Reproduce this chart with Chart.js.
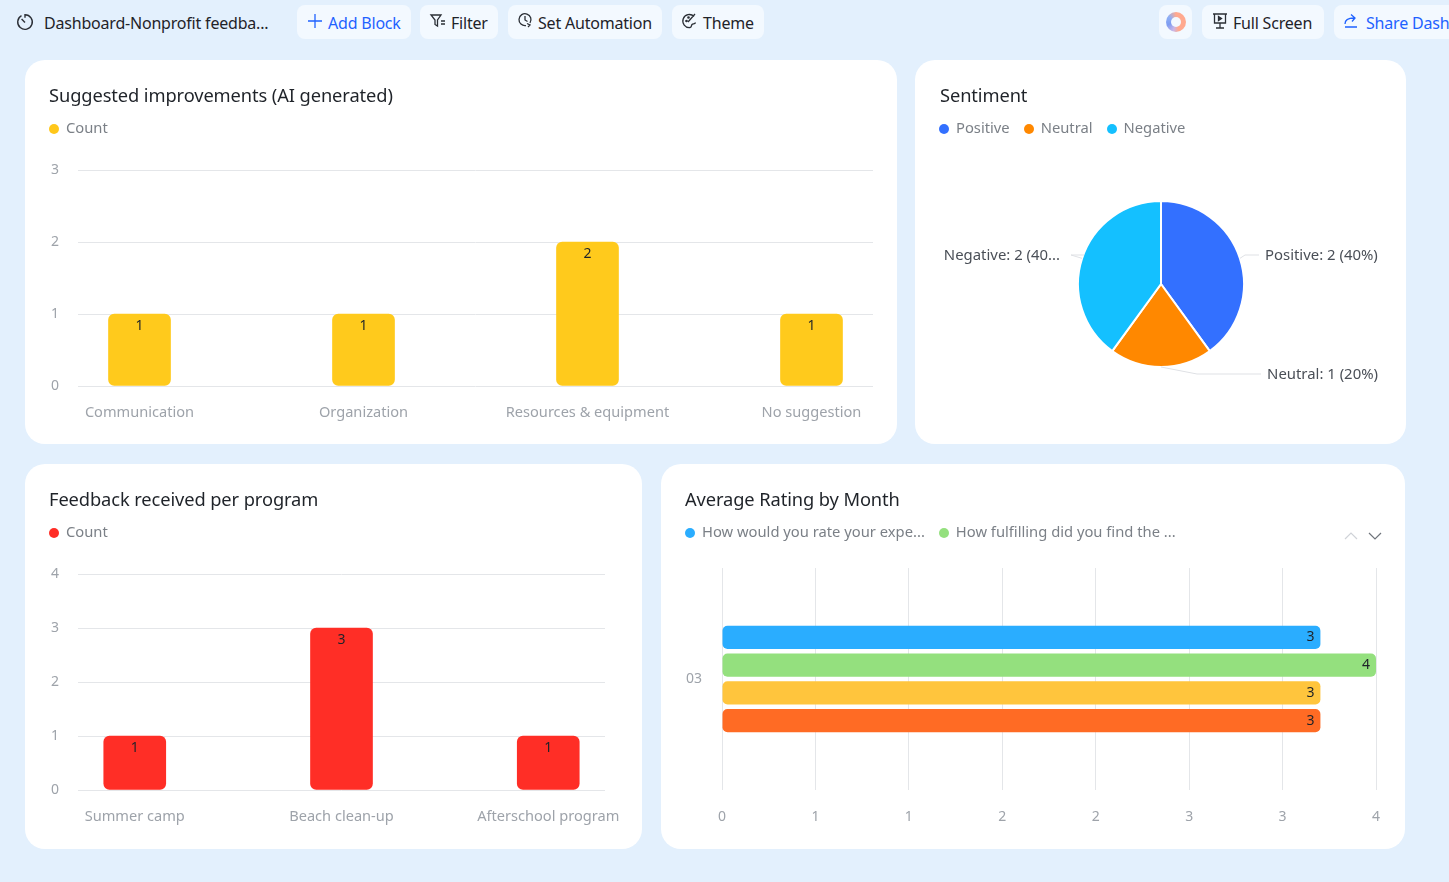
<!DOCTYPE html>
<html>
<head>
<meta charset="utf-8">
<title>Dashboard-Nonprofit feedback</title>
<script src="https://cdn.jsdelivr.net/npm/chart.js@4"></script>
<style>
  html, body { margin: 0; padding: 0; width: 1449px; height: 882px; overflow: hidden; background: #e3f0fd; font-family: "Noto Sans", sans-serif; color: #1f2329; }
  .btn { position: absolute; top: 5px; height: 34px; line-height: 34px; background: #f3f9ff; border-radius: 8px; font-size: 16px; white-space: nowrap; overflow: hidden; letter-spacing: -0.2px; }
  .btn svg { position: absolute; top: 7px; }
  .btn span { position: absolute; top: 1px; }
  .blue { color: #1f62ff; }
  .card { position: absolute; background: #fff; border-radius: 20px; overflow: hidden; }
  .card canvas { position: absolute; left: 0; top: 0; }
  .title { position: absolute; left: 24px; top: 21px; font-size: 18.3px; line-height: 28px; white-space: nowrap; letter-spacing: -0.1px; }
  .legend { position: absolute; left: 24px; top: 56px; font-size: 14.75px; line-height: 22px; color: #7b8087; white-space: nowrap; }
  .legend i { display: inline-block; width: 10px; height: 10px; border-radius: 50%; margin-right: 7px; vertical-align: -0.5px; }
  .legend b { font-weight: normal; margin-right: 14px; }
</style>
</head>
<body>
<svg style="position:absolute;left:15px;top:12px" width="20" height="20" viewBox="0 0 20 20" fill="none" stroke="#2b2f36" stroke-width="1.4"><path d="M6.5 3.6a7.3 7.3 0 1 0 3.5-.9v3"/><path d="M6.6 7l3.4 3.6"/></svg>
<div style="position:absolute;left:44px;top:11px;font-size:16px;line-height:24px;letter-spacing:-0.2px;white-space:nowrap">Dashboard-Nonprofit feedba...</div>

<div class="btn blue" style="left:297px;width:114px"><svg style="left:9px" width="18" height="18" viewBox="0 0 18 18" stroke="#1f62ff" stroke-width="1.3"><path d="M9 2v14M2 9h14"/></svg><span style="left:31px">Add Block</span></div>
<div class="btn" style="left:420px;width:78px"><svg style="left:9px" width="18" height="18" viewBox="0 0 18 18" fill="none" stroke="#2b2f36" stroke-width="1.3"><path d="M2 3h10L8.5 8v6L6 12.5V8zM12 9h4M12 12h4"/></svg><span style="left:31px">Filter</span></div>
<div class="btn" style="left:508px;width:154px"><svg style="left:8px;top:6px" width="18" height="18" viewBox="0 0 18 18" fill="none" stroke="#2b2f36" stroke-width="1.3"><path d="M14 12a6 6 0 1 0-4 2.6M9 5v4l2.500 1.500M11 12.500l3 1.500-2 2"/></svg><span style="left:30px">Set Automation</span></div>
<div class="btn" style="left:672px;width:92px"><svg style="left:9px" width="18" height="18" viewBox="0 0 18 18" fill="none" stroke="#2b2f36" stroke-width="1.3"><path d="M13 4.500A6.500 6.500 0 1 0 9 15.500c2 0 1-2 2-3s3 0 3.500-2M7 10l7-8"/><circle cx="5.500" cy="9" r="0.700"/><circle cx="7.500" cy="5.500" r="0.700"/></svg><span style="left:31px">Theme</span></div>

<div class="btn" style="left:1159px;width:33px"><div style="position:absolute;left:7px;top:7px;width:20px;height:20px;border-radius:50%;background:conic-gradient(#ffa98f 0 45%,#c9b6e8 55%,#7d9cf2 70%,#8fb0f5 85%,#ffa98f);"><div style="position:absolute;left:5px;top:5px;width:10px;height:10px;border-radius:50%;background:#f3f9ff"></div></div></div>
<div class="btn" style="left:1202px;width:122px"><svg style="left:9px" width="18" height="18" viewBox="0 0 18 18" fill="none" stroke="#2b2f36" stroke-width="1.3"><path d="M2 2h14M3.500 2v9h11V2M9 11v5M5 16h8"/><path d="M7.500 4.500l3 2-3 2z" fill="#2b2f36"/></svg><span style="left:31px">Full Screen</span></div>
<div class="btn blue" style="left:1334px;width:130px"><svg style="left:8px" width="18" height="18" viewBox="0 0 18 18" fill="none" stroke="#1f62ff" stroke-width="1.3"><path d="M3 15h12M3 12c0-4 3-6 9-6M9 2.500l4 3.500-3 3.500"/></svg><span style="left:32px">Share Dashboard</span></div>

<div class="card" style="left:25px;top:60px;width:872px;height:384px"><canvas id="improvements" width="872" height="384"></canvas><div class="title">Suggested improvements (AI generated)</div><div class="legend" id="legendImprovements"></div></div>
<div class="card" style="left:915px;top:60px;width:491px;height:384px"><canvas id="sentiment" width="491" height="384"></canvas><div class="title" style="left:25px">Sentiment</div><div class="legend" id="legendSentiment"></div></div>
<div class="card" style="left:25px;top:464px;width:617px;height:385px"><canvas id="feedback" width="617" height="385"></canvas><div class="title">Feedback received per program</div><div class="legend" id="legendFeedback"></div></div>
<div class="card" style="left:661px;top:464px;width:744px;height:385px"><canvas id="rating" width="744" height="385"></canvas><div class="title">Average Rating by Month</div><div class="legend" id="legendRating"></div>
  <svg style="position:absolute;left:683px;top:65px" width="40" height="12" viewBox="0 0 40 12" fill="none" stroke-width="1.2"><path d="M1 10l6-6 6 6" stroke="#d0d3d8"/><path d="M25 4l6 6 6-6" stroke="#6f747b"/></svg>
</div>

<script>
// suggested improvements
const improvementCategories = ["Communication", "Organization", "Resources & equipment", "No suggestion"]
const improvementCounts = [1, 1, 2, 1]

// sentiment
const sentimentLabels = ["Positive", "Neutral", "Negative"]
const sentimentCounts = [2, 1, 2]
const sentimentCallouts = ["Positive: 2 (40%)", "Neutral: 1 (20%)", "Negative: 2 (40..."]

// feedback per program
const programCategories = ["Summer camp", "Beach clean-up", "Afterschool program"]
const programCounts = [1, 3, 1]

// average rating by month
const ratingMonths = ["03"]
const ratingSeriesNames = ["How would you rate your expe...", "How fulfilling did you find the ..."]
const ratingExperience = [3.66]
const ratingFulfilling = [4]
const ratingThird = [3.66]
const ratingFourth = [3.66]
const ratingShown = [3, 4, 3, 3]

const GRID = "#e4e6e9"
const TICK = "#9ea3aa"
const FONT = "'Noto Sans', sans-serif"
Chart.defaults.font.family = FONT
Chart.defaults.animation = false
Chart.defaults.responsive = false
Chart.defaults.plugins.legend.display = false
Chart.defaults.plugins.tooltip.enabled = false

function fillLegend(id, names, colors){
  document.getElementById(id).innerHTML = names.map((n, i) => `<i style="background:${colors[i]}"></i><b>${n}</b>`).join("")
}

// number in the bar, just under its top
const barValues = {
  id: "barValues",
  afterDatasetsDraw(chart){
    const ctx = chart.ctx
    ctx.save()
    ctx.font = "14px " + FONT
    ctx.fillStyle = "#1f2329"
    ctx.textAlign = "center"
    ctx.textBaseline = "middle"
    chart.getDatasetMeta(0).data.forEach((bar, i) => {
      ctx.fillText(chart.data.datasets[0].data[i].y, bar.x, bar.y + 12)
    })
    ctx.restore()
  }
}

function columnChart(id, categories, counts, color, maxY, edge, left, top, right, bottom){
  return new Chart(document.getElementById(id), {
    type: "bar",
    data: {
      datasets: [{
        data: categories.map((c, i) => ({ x: i, y: counts[i] })),
        backgroundColor: color,
        borderRadius: 6,
        borderSkipped: false,
        barThickness: 62
      }]
    },
    options: {
      layout: { padding: { left: 0, top: top, right: right, bottom: 0 } },
      scales: {
        x: {
          type: "linear",
          offset: false,
          min: -edge,
          max: categories.length - 1 + edge,
          grid: { display: false },
          border: { display: false },
          afterBuildTicks(axis){ axis.ticks = categories.map((c, i) => ({ value: i })) },
          afterFit(axis){ axis.height = bottom },
          ticks: {
            autoSkip: false, maxRotation: 0, color: TICK, padding: 10,
            font: { size: 14.6 },
            callback: v => categories[v]
          }
        },
        y: {
          min: 0, max: maxY,
          grid: { color: GRID, drawTicks: false },
          border: { display: false },
          afterFit(axis){ axis.width = left },
          ticks: { stepSize: 1, color: TICK, padding: 19, font: { size: 14 } }
        }
      }
    },
    plugins: [barValues]
  })
}

fillLegend("legendImprovements", ["Count"], ["#ffc71a"])
columnChart("improvements", improvementCategories, improvementCounts, "#ffca1c", 3, 0.2746, 53, 110, 24, 58)

fillLegend("legendFeedback", ["Count"], ["#ff2d26"])
columnChart("feedback", programCategories, programCounts, "#ff2e26", 4, 0.2745, 53, 110, 37, 59)

// pie callouts: leader line out of each slice, then the text
const pieCallouts = {
  id: "pieCallouts",
  afterDatasetsDraw(chart){
    const ctx = chart.ctx
    const bends = [[84, 98, "left", 104], [36, 100, "right", 217], [-90, -77, "right", -101]]
    ctx.save()
    ctx.font = "14.9px " + FONT
    ctx.textBaseline = "middle"
    chart.getDatasetMeta(0).data.forEach((arc, i) => {
      const mid = (arc.startAngle + arc.endAngle) / 2
      const px = arc.x + Math.cos(mid) * arc.outerRadius
      const py = arc.y + Math.sin(mid) * arc.outerRadius
      const b = bends[i]
      const by = arc.y - 29 + (i == 1 ? 119 : 0)
      ctx.strokeStyle = "#dfe1e5"
      ctx.lineWidth = 1
      ctx.beginPath()
      ctx.moveTo(px, py)
      ctx.lineTo(arc.x + b[0], by)
      ctx.lineTo(arc.x + b[1], by)
      ctx.stroke()
      ctx.fillStyle = "#4a4f57"
      ctx.textAlign = b[2]
      ctx.fillText(sentimentCallouts[i], arc.x + b[3], by + 0.5)
    })
    ctx.restore()
  }
}

fillLegend("legendSentiment", sentimentLabels, ["#3370ff", "#ff8800", "#14c0ff"])
new Chart(document.getElementById("sentiment"), {
  type: "pie",
  data: {
    labels: sentimentLabels,
    datasets: [{
      data: sentimentCounts,
      backgroundColor: ["#3370ff", "#ff8800", "#14c0ff"],
      borderColor: "#fff",
      borderWidth: 2
    }]
  },
  options: {
    layout: { padding: { left: 162, top: 140, right: 161, bottom: 76 } }
  },
  plugins: [pieCallouts]
})

// number at the end of each horizontal bar
const ratingValues = {
  id: "ratingValues",
  afterDatasetsDraw(chart){
    const ctx = chart.ctx
    ctx.save()
    ctx.font = "14px " + FONT
    ctx.fillStyle = "#1f2329"
    ctx.textAlign = "right"
    ctx.textBaseline = "middle"
    chart.data.datasets.forEach((ds, i) => {
      const bar = chart.getDatasetMeta(i).data[0]
      ctx.fillText(ratingShown[i], bar.x - 6, bar.y)
    })
    ctx.restore()
  }
}

fillLegend("legendRating", ratingSeriesNames, ["#2aadff", "#94e07e"])
const ratingSeries = [ratingExperience, ratingFulfilling, ratingThird, ratingFourth]
const ratingColors = ["#2aadff", "#94e07e", "#ffc53d", "#ff6b24"]
new Chart(document.getElementById("rating"), {
  type: "bar",
  data: {
    labels: ratingMonths,
    datasets: ratingSeries.map((values, i) => ({
      data: values,
      backgroundColor: ratingColors[i],
      borderRadius: 5,
      borderSkipped: false,
      categoryPercentage: 0.5,
      barPercentage: 0.83
    }))
  },
  options: {
    indexAxis: "y",
    layout: { padding: { left: 0, top: 104, right: 29, bottom: 0 } },
    scales: {
      x: {
        min: 0, max: 4,
        grid: { color: GRID, drawTicks: false },
        border: { display: false },
        afterBuildTicks(axis){ axis.ticks = [0, 1, 2, 3, 4, 5, 6, 7].map(n => ({ value: n * 4 / 7 })) },
        afterFit(axis){ axis.height = 59 },
        ticks: { autoSkip: false, maxRotation: 0, color: TICK, padding: 19, font: { size: 14 }, callback: v => Math.round(v) }
      },
      y: {
        grid: { display: false },
        border: { display: false },
        afterFit(axis){ axis.width = 61 },
        ticks: { color: TICK, padding: 12, font: { size: 14 } }
      }
    }
  },
  plugins: [ratingValues]
})
</script>
</body>
</html>
